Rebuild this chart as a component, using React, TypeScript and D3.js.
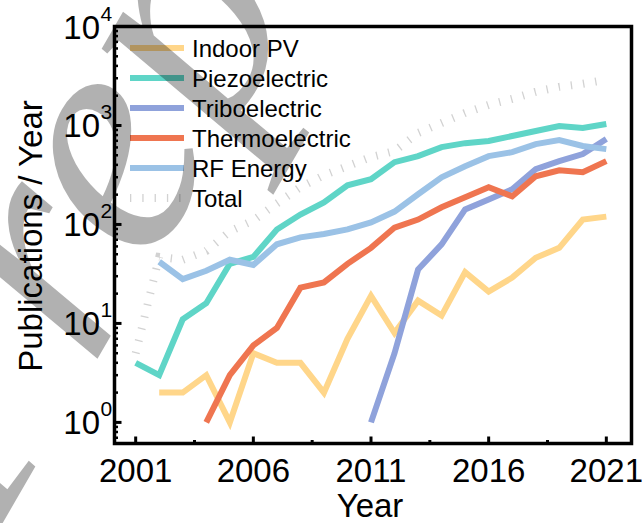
import React from "react";
import * as d3 from "d3";

const years = d3.range(2001, 2022);
const pvStart = 2002;
const pvValues = [2, 2, 3, 1, 5, 4, 4, 2, 7, 19, 8, 17, 12, 33, 21, 29, 46, 58, 112, 120];
const piezoStart = 2001;
const piezoValues = [4, 3, 11, 16, 40, 47, 89, 126, 167, 249, 286, 426, 491, 605, 663, 696, 782, 879, 988, 943, 1036];
const triboStart = 2011;
const triboValues = [1, 5, 35, 63, 142, 179, 227, 362, 436, 514, 729];
const thermoStart = 2004;
const thermoValues = [1, 3, 6, 9, 23, 26, 40, 58, 93, 112, 149, 188, 238, 192, 307, 353, 337, 436];
const rfStart = 2002;
const rfValues = [42, 28, 34, 44, 39, 63, 74, 80, 89, 105, 135, 202, 300, 388, 490, 538, 649, 712, 620, 577];
const totalStart = 2001;
const totalValues = [5, 47, 44, 54, 85, 110, 163, 238, 314, 388, 479, 551, 839, 1060, 1340, 1614, 1858, 2188, 2455, 2638, 2898];

const xMajorTicks = [2001, 2006, 2011, 2016, 2021];
const xMinorTicks = [2003.5, 2008.5, 2013.5, 2018.5];
const yMajorExps = [0, 1, 2, 3, 4];

const seriesNames = ["Indoor PV", "Piezoelectric", "Triboelectric", "Thermoelectric", "RF Energy", "Total"];
const seriesColors = ["#FFD68A", "#5FD5C7", "#8FA2DB", "#EF7550", "#9BC2E6", "#d2d2d2"];
const watermarkText = "Preprint";

const W = 643, H = 523;
const L = 114.5, R = 631.5, T = 26.5, B = 443.5;
const FONT = "Liberation Sans, Arial, sans-serif";

export default function App() {
  const x = d3.scaleLinear().domain([2000.1, 2022.07]).range([L, R]);
  const y = d3.scaleLog().domain([Math.pow(10, -0.2132), 1e4]).range([B, T]);

  const mk = (start: number, vals: number[]) => vals.map((v, i) => [start + i, v] as [number, number]);
  const line = d3.line<[number, number]>().x(d => x(d[0])).y(d => y(d[1]));

  const data = [
    mk(pvStart, pvValues),
    mk(piezoStart, piezoValues),
    mk(triboStart, triboValues),
    mk(thermoStart, thermoValues),
    mk(rfStart, rfValues),
  ];
  const total = mk(totalStart, totalValues);

  const yMinor: number[] = [];
  for (let e = -1; e <= 3; e++) {
    for (let m = 2; m <= 9; m++) {
      const v = m * Math.pow(10, e);
      const [d0, d1] = y.domain();
      if (v > d0 && v < d1) yMinor.push(v);
    }
  }

  const legendY0 = 48, legendDy = 30;

  return (
    <svg width={W} height={H} style={{ position: "absolute", left: 0, top: 0, background: "#fff" }} fontFamily={FONT}>
      <rect x={0} y={0} width={W} height={H} fill="#fff" />
      {/* Total dotted line */}
      <path d={line(total) || ""} fill="none" stroke={seriesColors[5]} strokeWidth={8} strokeDasharray="1.3 11" />
      {data.map((d, i) => (
        <path key={i} d={line(d) || ""} fill="none" stroke={seriesColors[i]} strokeWidth={6} strokeLinejoin="miter" />
      ))}

      {/* Legend */}
      {seriesNames.map((n, i) => {
        const ly = legendY0 + i * legendDy;
        return (
          <g key={n}>
            {i < 5 ? (
              <line x1={130} x2={184} y1={ly} y2={ly} stroke={seriesColors[i]} strokeWidth={6} />
            ) : (
              <line x1={130} x2={184} y1={ly} y2={ly} stroke={seriesColors[5]} strokeWidth={8} strokeDasharray="1.3 11" />
            )}
            <text x={192} y={ly + 9} fontSize={24} fill="#000">{n}</text>
          </g>
        );
      })}

      {/* Frame */}
      <rect x={L} y={T} width={R - L} height={B - T} fill="none" stroke="#000" strokeWidth={3.5} />

      {/* X ticks */}
      {xMajorTicks.map(t => (
        <g key={t}>
          <line x1={x(t)} x2={x(t)} y1={B} y2={B - 7} stroke="#000" strokeWidth={3} />
          <text x={x(t)} y={482} fontSize={33} textAnchor="middle" fill="#000">{t}</text>
        </g>
      ))}
      {xMinorTicks.map(t => (
        <line key={t} x1={x(t)} x2={x(t)} y1={B} y2={B - 3.5} stroke="#000" strokeWidth={3} />
      ))}

      {/* Y ticks */}
      {yMajorExps.map(e => {
        const yy = y(Math.pow(10, e));
        return (
          <g key={e}>
            <line x1={L} x2={L + 7} y1={yy} y2={yy} stroke="#000" strokeWidth={3} />
            <text x={100} y={yy + 12} fontSize={33} textAnchor="end" fill="#000">10</text>
            <text x={100.5} y={yy - 6} fontSize={21} textAnchor="start" fill="#000">{e}</text>
          </g>
        );
      })}
      {yMinor.map(v => (
        <line key={v} x1={L} x2={L + 3.5} y1={y(v)} y2={y(v)} stroke="#000" strokeWidth={2.5} />
      ))}

      {/* Axis titles */}
      <text x={370} y={517} fontSize={33} textAnchor="middle" fill="#000">Year</text>
      <text transform="translate(42,236) rotate(-90)" fontSize={33} textAnchor="middle" fill="#000">Publications / Year</text>

      {/* Watermark */}
      <text transform="translate(-10,545) rotate(-60)" fontSize={330} fontFamily="Liberation Serif, serif" fontStyle="italic" fill="#000" opacity={0.3}>{watermarkText}</text>
    </svg>
  );
}
